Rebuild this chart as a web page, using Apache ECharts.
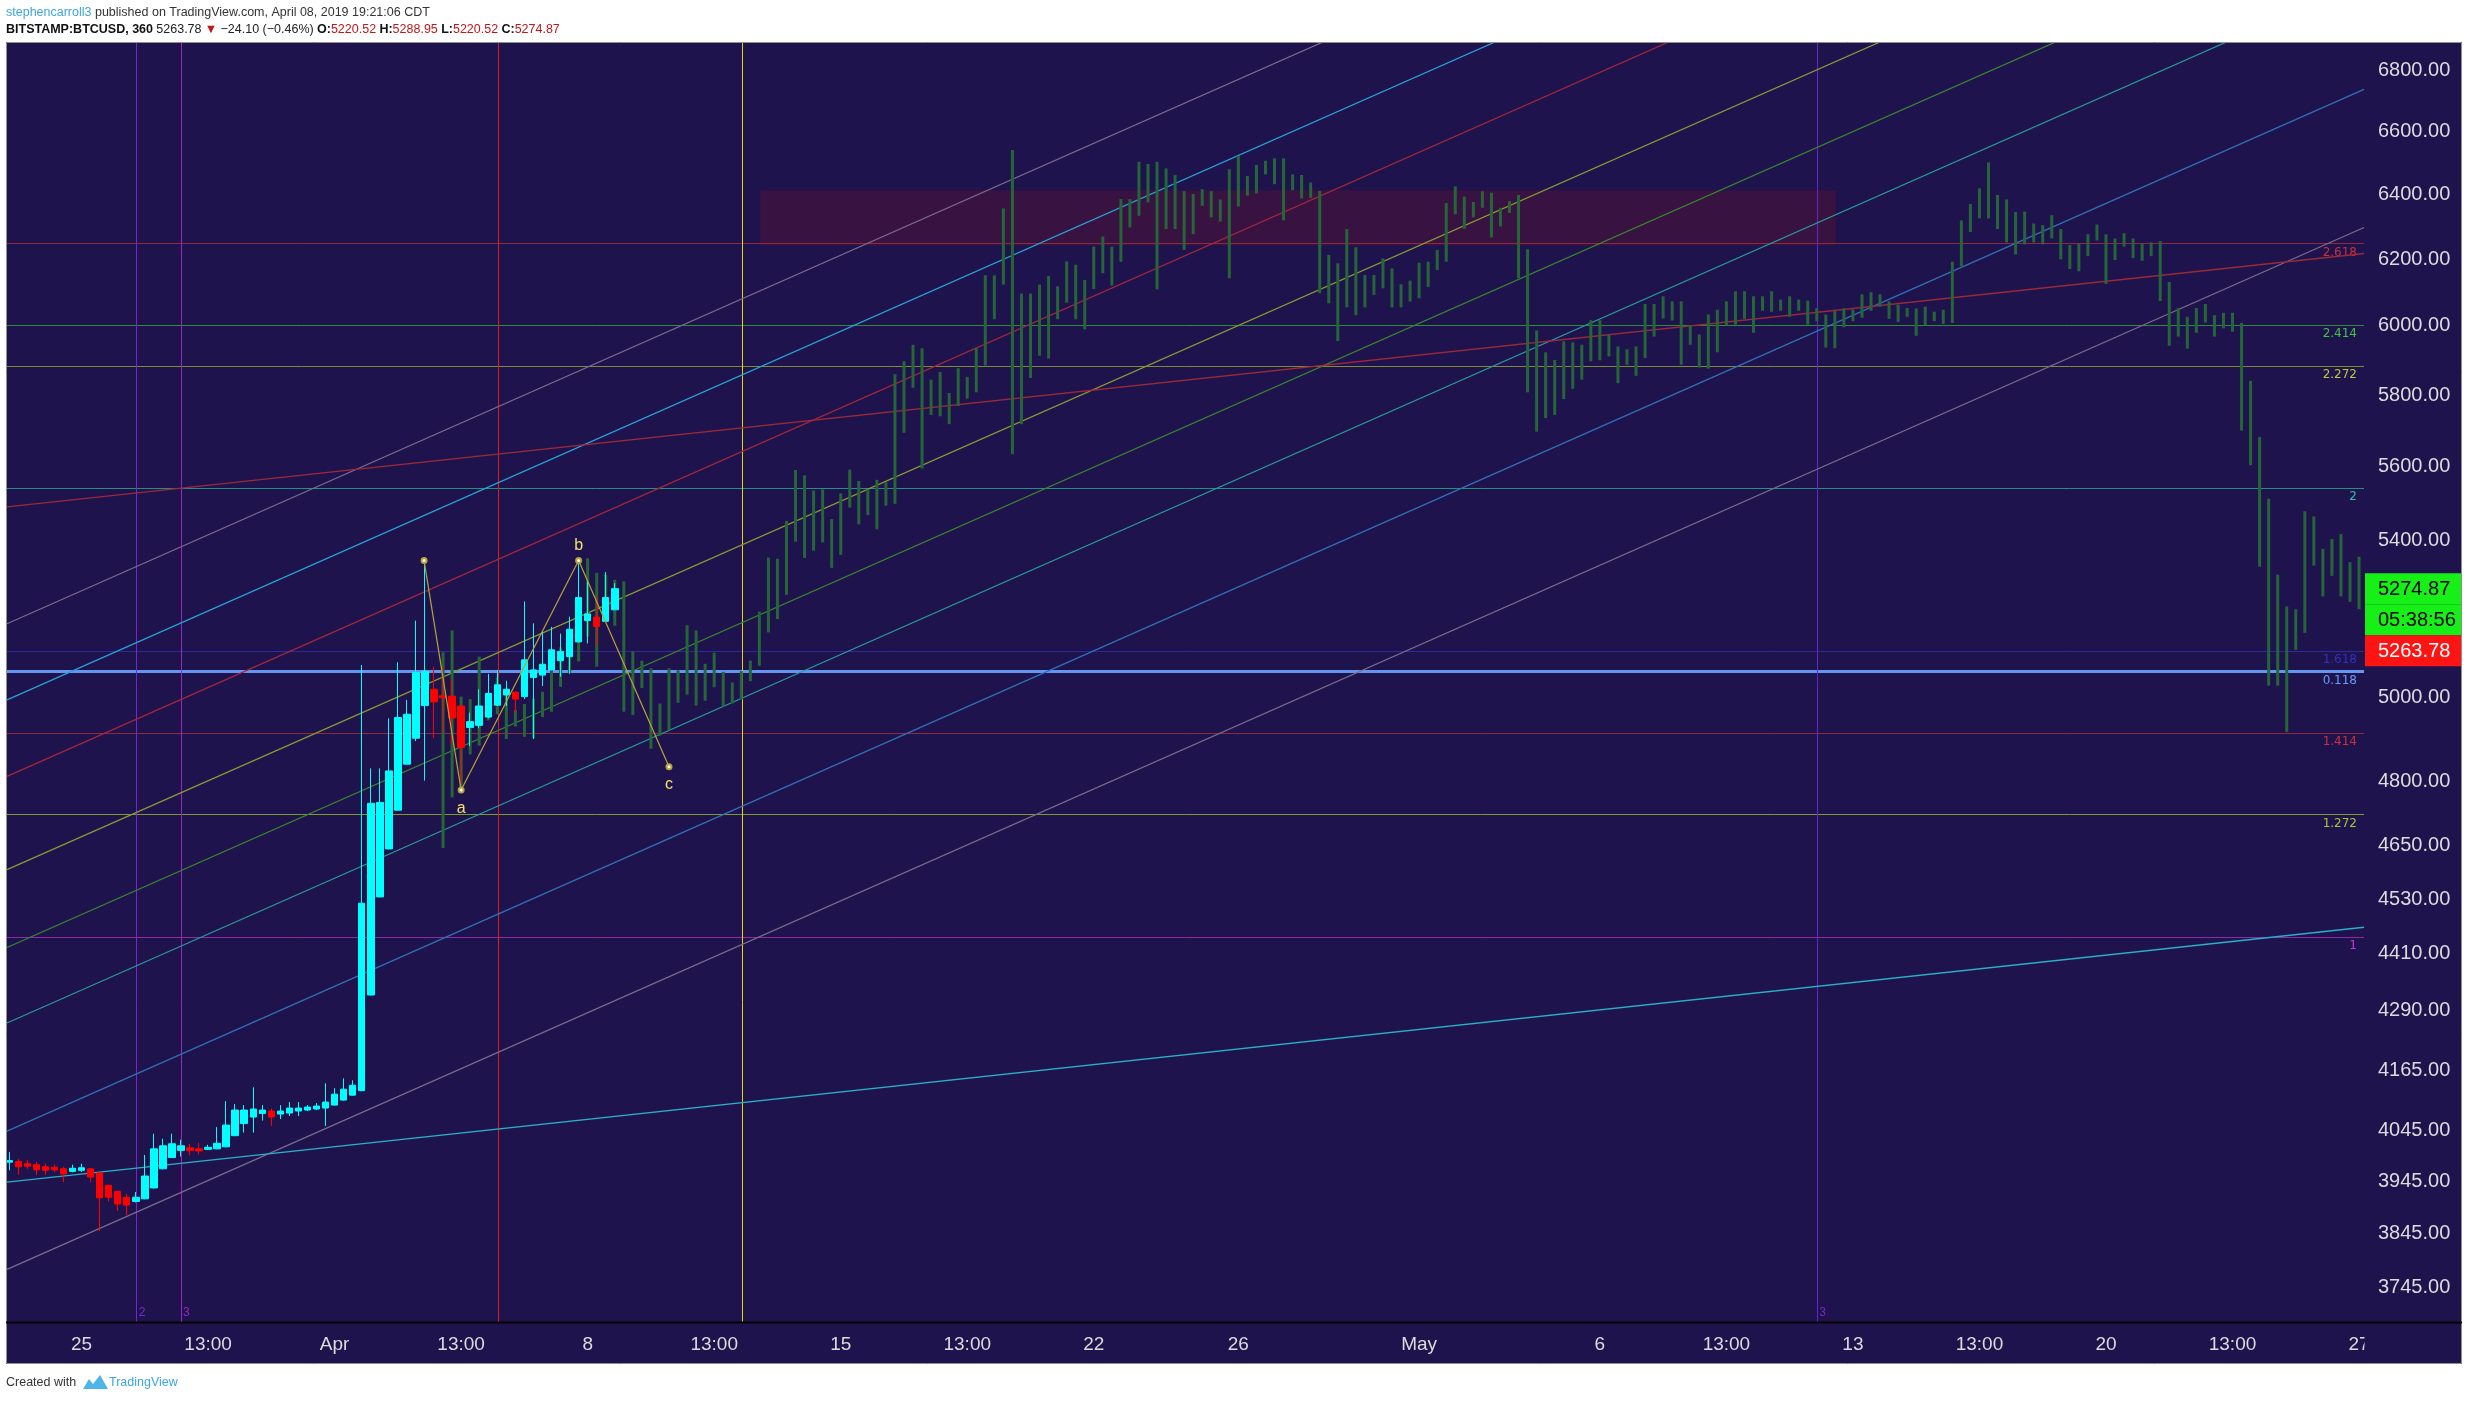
<!DOCTYPE html>
<html><head><meta charset="utf-8">
<script src="https://cdn.jsdelivr.net/npm/echarts@6/dist/echarts.min.js"></script>
<style>html,body{margin:0;padding:0;background:#fff}#c{width:2468px;height:1401px}</style>
</head><body><div id="c"></div>
<script>
// ---------------- DATA ----------------
// x = 6-hour bar index counted from Mar 25 01:00 CDT
const xTickPos = [0, 14, 28, 42, 56, 70, 84, 98, 112, 128, 148, 168, 182, 196, 210, 224, 238, 252];
const xTickLabels = ['25', '13:00', 'Apr', '13:00', '8', '13:00', '15', '13:00', '22', '26', 'May', '6', '13:00', '13', '13:00', '20', '13:00', '27'];
const yTicks = [3745, 3845, 3945, 4045, 4165, 4290, 4410, 4530, 4650, 4800, 5000, 5200, 5400, 5600, 5800, 6000, 6200, 6400, 6600, 6800];
const xRange = [-8.25, 252.55];
const yRange = [3681.8, 6893.0];

const candleStart = -8;
const candleOpen = [3982,3983,3979,3977,3973,3972,3969,3964,3966,3969,3961,3937,3925,3914,3906,3911,3932,3969,3991,4005,4010,4008,4007,4008,4012,4034,4058,4071,4078,4083,4077,4079,4083,4085,4087,4089,4095,4105,4115,4124,4322,4535,4643,4732,4840,4902,4981,5021,5005,5004,4980,4928,4933,4953,4982,5007,5014,5003,5050,5056,5069,5092,5102,5139,5193,5202,5191,5220.52];
const candleClose = [3985,3973,3974,3967,3966,3967,3959,3970,3971,3953,3913,3914,3901,3899,3914,3955,4008,4014,4018,4014,4005,4004,4011,4019,4055,4085,4085,4087,4085,4071,4083,4089,4089,4091,4093,4101,4117,4127,4135,4521,4748,4750,4824,4952,4960,5062,5065,4990,5000,4951,4880,4942,4980,5011,5032,5021,4997,5094,5069,5083,5119,5115,5171,5252,5210,5178,5252,5274.87];
const candleLow = [3966,3957,3969,3957,3957,3962,3943,3962,3963,3943,3850,3906,3888,3880,3904,3910,3931,3968,3990,3993,3995,3997,4006,4007,4011,4033,4040,4040,4064,4053,4067,4073,4073,4083,4085,4053,4094,4104,4114,4123,4321,4534,4642,4731,4839,4895,4801,4902,4918,4888,4779,4883,4926,4950,4980,4980,4964,4997,4900,5029,5068,5052,5060,5138,5135,5130,5190,5220.52];
const candleHigh = [4002,3988,3986,3982,3979,3977,3973,3977,3979,3970,3962,3938,3926,3920,3924,3996,4038,4028,4038,4026,4018,4020,4016,4051,4103,4097,4095,4131,4095,4088,4095,4101,4101,4095,4099,4139,4129,4149,4145,5081,4830,4830,4950,5088,4995,5193,5348,5077,5077,5046,4981,4964,5021,5059,5069,5042,5016,5242,5186,5165,5177,5160,5203,5348,5298,5254,5318,5288.95];

// projected (bars pattern) high / low
const ghostStart = 40;
const ghostHigh = [5113,5168,5003,4997,5102,5010,5050,5020,4970,4985,
4998,5015,5070,5125,5150,5200,5354,5316,5311,5298,
5294,5115,5092,5073,4986,5073,5068,5181,5168,5084,
5112,5064,5038,5066,5092,5216,5356,5353,5453,5591,
5576,5535,5538,5458,5527,5592,5561,5538,5564,5557,
5860,5897,5945,5935,5844,5866,5806,5877,5852,5936,
6151,6151,6356,6541,6096,6096,6123,6149,6118,6193,
6183,6137,6238,6269,6238,6385,6385,6503,6496,6503,
6482,6461,6410,6401,6416,6410,6384,6479,6521,6458,
6493,6506,6514,6514,6463,6461,6437,6411,6213,6187,
6292,6236,6152,6152,6202,6172,6124,6135,6189,6192,
6228,6373,6425,6393,6376,6410,6405,6358,6379,6398,
6230,5987,5923,5901,5955,5952,5945,6017,6017,5975,
5940,5932,5940,6065,6065,6088,6073,6073,6002,5975,
6034,6048,6073,6103,6103,6088,6088,6103,6078,6088,
6078,6075,6053,6034,6044,6052,6049,6094,6100,6094,
6073,6063,6053,6052,6057,6042,6048,6192,6319,6370,
6419,6501,6398,6384,6345,6346,6309,6304,6335,6292,
6243,6248,6276,6306,6276,6263,6279,6263,6248,6251,
6255,6131,6053,6027,6053,6065,6032,6039,6039,6009,
5841,5682,5513,5311,5229,5222,5479,5465,5379,5405,
5418,5344,5358];
const ghostLow = [4645,4762,4779,4863,4884,4945,4960,4900,4930,4905,
4902,4953,4966,5027,5060,5090,5152,5077,5236,5180,
4966,4958,5024,4877,4908,4921,4988,5008,4981,4993,
5026,4979,4986,4996,5041,5079,5163,5197,5259,5398,
5355,5374,5396,5329,5363,5489,5444,5469,5431,5494,
5499,5694,5821,5595,5744,5740,5718,5769,5790,5808,
5885,6020,6123,5634,5718,5849,5913,5905,6020,6069,
6020,5990,6110,6157,6120,6192,6297,6333,6375,6109,
6292,6292,6228,6276,6364,6328,6315,6142,6362,6396,
6403,6463,6432,6319,6413,6387,6389,6097,6067,5956,
6055,6032,6055,6092,6112,6055,6055,6072,6082,6116,
6167,6192,6338,6293,6328,6358,6266,6300,6342,6142,
5808,5697,5735,5744,5789,5818,5844,5897,5900,5911,
5834,5887,5855,5906,5969,6022,6016,5887,5945,5879,
5876,5923,6002,6004,6021,5980,6045,6042,6045,6027,
6045,6004,6014,5937,5935,5996,6014,6024,6045,6057,
6021,6012,6027,5971,6002,6014,6006,6009,6178,6283,
6325,6325,6292,6251,6214,6245,6251,6245,6263,6199,
6170,6163,6209,6257,6125,6197,6238,6203,6195,6209,
6074,5942,5969,5934,5980,6010,5969,5993,5983,5700,
5604,5332,5030,5030,4917,5119,5162,5335,5255,5308,
5255,5241,5222];

// horizontal fib levels
const levelPrice = [6248, 6018, 5861, 5558, 5134, 5076, 4905, 4744, 4445];
const levelText = ['2.618', '2.414', '2.272', '2', '1.618', '0.118', '1.414', '1.272', '1'];
// vertical lines
const vLineIdx = [6.1, 11.0, 46.1, 73.1, 192.05];
const vLineText = ['2', '3', '', '', '3'];
// parallel channel lines (price at left / right edge)
const channelX = [-8.25, 252.55];
const channelLeft = [5185, 4995, 4811, 4596, 4424, 4263, 4043, 3778];
const channelRight = [8642, 8326, 8018, 7659, 7373, 7105, 6738, 6297];
// shallow trend lines
const trendLeft = [5491, 3943];
const trendRight = [6217, 4468];
// abc wave
const waveIdx = [37.9, 42, 55, 65];
const wavePrice = [5348, 4779, 5348, 4834];
const waveText = ['', 'a', 'b', 'c'];
// zone
const zoneIdx = [75.1, 194.1];
const zonePrice = [6413, 6241];
// last values
const lastClose = 5274.87, lastPrice = 5263.78, countdown = '05:38:56';

// ---------------- STYLE ----------------
const BG = '#1f134d';
const FONT = 'Liberation Sans, Arial, sans-serif';
const levelLineColors = ['#8e2a3e', '#2f8a3a', '#7d8a35', '#258f80', '#2b2b9c', '#6496f0', '#8e2a3e', '#7d9a30', '#8e2aa6'];
const levelLabelColors = ['#c8303c', '#3ec43e', '#b8c93a', '#33c0a8', '#3030c4', '#6a9af5', '#c8303c', '#a5c835', '#d030e0'];
const vLineColors = ['#7b22d6', '#9a28b8', '#d42020', '#e3d40e', '#6a20d4'];
const vTextColors = ['#8a34ec', '#b52ad6', '#fff', '#fff', '#8a2be2'];
const channelColors = ['#7d6c8c', '#29a3d6', '#a3283c', '#8c9a35', '#3a8a2e', '#2a9a9a', '#3270b8', '#7a6d8a'];
const trendColors = ['#9a2a3a', '#2aafc8'];

const LN = Math.log;
const chart = echarts.init(document.getElementById('c'), null, {renderer: 'canvas'});

const candleData = candleOpen.map((o, k) => [candleStart + k, LN(o), LN(candleClose[k]), LN(candleLow[k]), LN(candleHigh[k])]);
const ghostData = ghostHigh.map((h, k) => [ghostStart + k, LN(ghostLow[k]), LN(h)]);

const markLineData = [];
levelPrice.forEach((p, k) => markLineData.push({
  yAxis: LN(p),
  lineStyle: {color: levelLineColors[k], width: k === 5 ? 3 : 1, type: 'solid', opacity: 1},
  label: {show: true, position: 'insideEndBottom', formatter: levelText[k], color: levelLabelColors[k],
          fontSize: 12, fontFamily: 'DejaVu Sans', distance: [7, 3]}
}));
vLineIdx.forEach((x, k) => markLineData.push({
  xAxis: x, lineStyle: {color: vLineColors[k], width: 1, type: 'solid', opacity: 1}, label: {show: false}
}));

const series = [];
channelLeft.forEach((l, k) => series.push({
  type: 'line', z: 2, silent: true, symbol: 'none', clip: true,
  data: [[channelX[0], LN(l)], [channelX[1], LN(channelRight[k])]],
  lineStyle: {color: channelColors[k], width: 1.2}
}));
trendLeft.forEach((l, k) => series.push({
  type: 'line', z: 2, silent: true, symbol: 'none', clip: true,
  data: [[channelX[0], LN(l)], [channelX[1], LN(trendRight[k])]],
  lineStyle: {color: trendColors[k], width: 1.3}
}));
series.push({
  type: 'custom', z: 3, silent: true,
  data: ghostData, encode: {x: 0, y: [1, 2]},
  renderItem: function (params, api) {
    const x = api.value(0);
    const top = api.coord([x, api.value(2)]);
    const bot = api.coord([x, api.value(1)]);
    return {type: 'rect', shape: {x: top[0] - 1.5, y: top[1], width: 3, height: Math.max(1, bot[1] - top[1])},
            style: {fill: '#256638'}};
  }
});
series.push({
  type: 'candlestick', z: 4, silent: true, barWidth: 7,
  data: candleData, encode: {x: 0, y: [1, 2, 3, 4]},
  itemStyle: {color: '#00ffff', color0: '#ff0000', borderColor: '#00ffff', borderColor0: '#ff0000', borderWidth: 1},
  markArea: {silent: true, z: 1, itemStyle: {color: 'rgba(82,17,52,0.5)'},
    data: [[{coord: [zoneIdx[0], LN(zonePrice[0])]}, {coord: [zoneIdx[1], LN(zonePrice[1])]}]]},
  markLine: {silent: true, z: 1, symbol: ['none', 'none'], data: markLineData}
});
const waveDist = [0, 7, 4, 6];
series.push({
  type: 'line', z: 5, silent: true, symbol: 'emptyCircle', symbolSize: 5,
  data: waveIdx.map((x, k) => ({value: [x, LN(wavePrice[k])],
    label: {show: !!waveText[k], formatter: waveText[k], position: k === 2 ? 'top' : 'bottom', distance: waveDist[k]}})),
  lineStyle: {color: '#b8a33a', width: 1.2}, itemStyle: {color: '#b8a33a'},
  label: {color: '#ece36a', fontSize: 16, fontFamily: FONT}
});
series.push({
  type: 'scatter', z: 5, silent: true, symbolSize: 0,
  data: vLineIdx.map((x, k) => ({value: [x, LN(yRange[0])],
    label: {show: !!vLineText[k], formatter: vLineText[k], color: vTextColors[k]}})),
  label: {position: 'right', offset: [-3, -9], fontSize: 12, fontFamily: FONT}
});

chart.setOption({
  animation: false,
  backgroundColor: BG,
  grid: {left: 7, right: 104, top: 43, bottom: 79, containLabel: false, outerBoundsMode: 'none'},
  xAxis: {type: 'value', min: xRange[0], max: xRange[1],
    axisLine: {show: false}, axisTick: {show: false}, splitLine: {show: false},
    axisLabel: {customValues: xTickPos, color: '#dcdcdc', fontSize: 19, fontFamily: FONT, margin: 13,
      formatter: function (v) { const k = xTickPos.indexOf(Math.round(v)); return k >= 0 ? xTickLabels[k] : ''; }}},
  yAxis: {type: 'value', position: 'right', min: LN(yRange[0]), max: LN(yRange[1]),
    axisLine: {show: false}, axisTick: {show: false}, splitLine: {show: false},
    axisLabel: {customValues: yTicks.map(LN), color: '#dcdcdc', fontSize: 20, fontFamily: FONT, margin: 14,
      padding: [4, 0, 0, 0],
      formatter: function (v) { return Math.exp(v).toFixed(2); }}},
  series: series
});

// ---------------- FRAME, HEADER, PRICE TAGS ----------------
const yC = chart.convertToPixel({yAxisIndex: 0}, LN(lastClose));
const H = 31, BX = 2365, BW = 96;
const Z = 100;
const HF = 12.5;
const els = [
  {type: 'rect', z: Z, shape: {x: 0, y: 0, width: 2468, height: 42}, style: {fill: '#fff'}},
  {type: 'rect', z: Z, shape: {x: 0, y: 0, width: 6, height: 1401}, style: {fill: '#fff'}},
  {type: 'rect', z: Z, shape: {x: 2462, y: 0, width: 6, height: 1401}, style: {fill: '#fff'}},
  {type: 'rect', z: Z, shape: {x: 0, y: 1364, width: 2468, height: 37}, style: {fill: '#fff'}},
  {type: 'rect', z: Z, shape: {x: 2364.5, y: 1323, width: 97, height: 41}, style: {fill: BG}},
  {type: 'rect', z: Z + 1, shape: {x: 6.5, y: 42.5, width: 2455, height: 1321}, style: {fill: null, stroke: '#8f8f8f', lineWidth: 1}},
  {type: 'line', z: Z + 1, shape: {x1: 6, y1: 1322.5, x2: 2462, y2: 1322.5}, style: {stroke: '#000', lineWidth: 2}},
  {type: 'text', z: Z + 2, style: {x: 6, y: 13, verticalAlign: 'middle',
    text: '{u|stephencarroll3}{t| published on TradingView.com, April 08, 2019 19:21:06 CDT}',
    rich: {u: {fill: '#3ba6dd', fontSize: HF, fontFamily: FONT}, t: {fill: '#333', fontSize: HF, fontFamily: FONT}}}},
  {type: 'text', z: Z + 2, style: {x: 6, y: 30, verticalAlign: 'middle',
    text: '{b|BITSTAMP:BTCUSD, 360} {n|' + lastPrice.toFixed(2) + '} {r|▼} {n|\u221224.10 (\u22120.46%)} {b|O:}{r|5220.52} {b|H:}{r|5288.95} {b|L:}{r|5220.52} {b|C:}{r|' + lastClose.toFixed(2) + '}',
    rich: {b: {fill: '#111', fontSize: HF, fontWeight: 'bold', fontFamily: FONT},
           n: {fill: '#222', fontSize: HF, fontFamily: FONT},
           r: {fill: '#c0161a', fontSize: HF, fontFamily: FONT}}}},
  {type: 'text', z: Z + 2, style: {x: 6, y: 1383, verticalAlign: 'middle', text: 'Created with', fill: '#333', fontSize: HF, fontFamily: FONT}},
  {type: 'polygon', z: Z + 2, shape: {points: [[83, 1389], [89, 1379], [93, 1384], [100, 1375], [108, 1389]]}, style: {fill: '#4eb5e8'}},
  {type: 'text', z: Z + 2, style: {x: 109, y: 1383, verticalAlign: 'middle', text: 'TradingView', fill: '#3ba6dd', fontSize: HF, fontFamily: FONT}},
  {type: 'rect', z: Z + 3, shape: {x: BX, y: yC - H / 2, width: BW, height: H}, style: {fill: '#16f016'}},
  {type: 'text', z: Z + 4, style: {x: 2378, y: yC + 1, verticalAlign: 'middle', text: lastClose.toFixed(2), fill: '#000', fontSize: 20, fontFamily: FONT}},
  {type: 'rect', z: Z + 3, shape: {x: BX, y: yC + H / 2, width: BW, height: H}, style: {fill: '#16f016'}},
  {type: 'text', z: Z + 4, style: {x: 2378, y: yC + H + 1, verticalAlign: 'middle', text: countdown, fill: '#000', fontSize: 20, fontFamily: FONT}},
  {type: 'rect', z: Z + 3, shape: {x: BX, y: yC + 1.5 * H, width: BW, height: H}, style: {fill: '#ff1414'}},
  {type: 'text', z: Z + 4, style: {x: 2378, y: yC + 2 * H + 1, verticalAlign: 'middle', text: lastPrice.toFixed(2), fill: '#fff', fontSize: 20, fontFamily: FONT}}
];
chart.setOption({graphic: {elements: els}});
</script></body></html>
